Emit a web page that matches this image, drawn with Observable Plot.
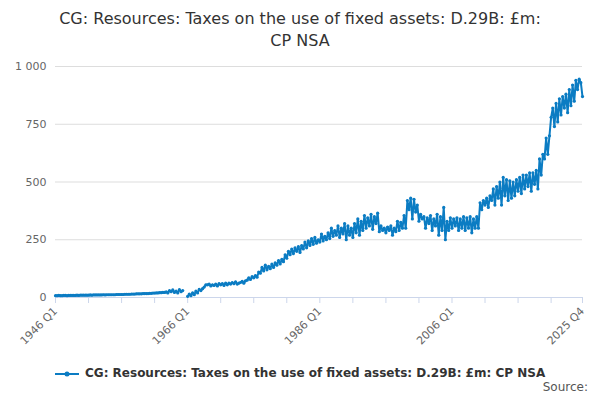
<!DOCTYPE html><html><head><meta charset="utf-8">
<script src="https://cdn.jsdelivr.net/npm/d3@7"></script>
<script src="https://cdn.jsdelivr.net/npm/@observablehq/plot@0.6"></script>
<style>body{margin:0;font-family:"DejaVu Sans",sans-serif;background:#fff;width:600px}
#t{text-align:center;font-size:16px;color:#333;line-height:22px;padding-top:8px;height:47px}
#lg{font-size:12px;font-weight:bold;color:#333;text-align:center;margin-top:6px}
#src{font-size:12px;color:#555;text-align:right;padding-right:12px;margin-top:0px}
</style></head><body>
<div id="t">CG: Resources: Taxes on the use of fixed assets: D.29B: £m:<br>CP NSA</div>
<div id="c"></div>
<div id="lg"><svg width="26" height="10" style="vertical-align:middle"><line x1="0" y1="5" x2="24" y2="5" stroke="#0b7cc3" stroke-width="2"/><circle cx="12" cy="5" r="2.5" fill="#0b7cc3"/></svg> CG: Resources: Taxes on the use of fixed assets: D.29B: £m: CP NSA</div>
<div id="src">Source:</div>
<script>
const startYear = 1946;
const values = [
8,8,9,8, 8,9,9,8, 9,9,9,9, 9,10,9,10, 10,10,10,10, 10,11,10,11, 11,11,11,11, 11,12,11,12, 12,12,12,12, 12,13,13,13,
13,13,14,14, 14,14,15,15, 15,16,16,16, 16,17,17,17, 17,18,18,19, 19,20,20,21, 21,22,22,24, 20,30,25,33, 22,28,20,34, 25,30,null,null,
5,15,8,20, 12,28,20,35, 30,38,45,55, 55,58,50,55, 52,58,50,60, 55,60,52,62, 55,62,58,65, 60,68,58,62, 65,70,62,72, 75,85,78,90,
85,95,88,110, 105,130,115,140, 120,135,125,145, 130,150,140,160, 145,165,155,185, 170,200,185,210, 190,215,200,220, 195,225,210,240, 215,245,225,255, 230,260,235,250,
240,275,245,265, 250,280,255,300, 265,290,270,310, 260,300,275,320, 250,310,270,300, 260,320,280,340, 270,330,290,355, 300,345,310,360, 295,350,320,365, 285,310,290,300,
280,305,290,310, 270,300,285,330, 290,325,300,355, 300,420,380,430, 340,425,370,400, 330,360,340,350, 300,345,320,355, 290,340,310,360, 270,350,290,390, 250,330,290,345,
300,340,310,345, 290,340,300,350, 290,345,300,350, 280,340,300,350, 300,410,380,420, 400,430,390,440, 420,470,400,480, 430,500,400,520, 440,510,420,505, 430,500,440,510,
460,520,450,530, 470,530,480,540, 460,540,490,550, 470,600,530,620, 600,690,620,700, 780,820,740,840, 760,860,790,870, 820,880,800,900, 830,920,850,940, 900,945,930,870
];
const labeledTicks = ["1946 Q1","1966 Q1","1986 Q1","2006 Q1","2025 Q4"];
const yTicks = [0,250,500,750,1000];
const data = values.map((v,i)=>({i, v, label: `${startYear+Math.floor(i/4)} Q${i%4+1}`}));
const lab = new Map(data.map(d=>[d.i,d.label]));
const tickIdx = d3.range(0,320,20).concat([319]);
const col = "#0b7cc3";
const chart = Plot.plot({
  width:600, height:305, marginTop:11, marginLeft:55, marginRight:18, marginBottom:63,
  style:{fontFamily:"DejaVu Sans, sans-serif", fontSize:"11px", color:"#666"},
  x:{domain:[0,319], label:null},
  y:{domain:[0,1000], ticks:yTicks, tickFormat:d=>d3.format(",")(d).replace(","," "), label:null, tickSize:0},
  marks:[
    Plot.gridY(yTicks,{stroke:"#ddd", strokeOpacity:1}),
    Plot.axisY(yTicks,{tickSize:0, tickFormat:d=>d3.format(",")(d).replace(","," "), fill:"#666"}),
    Plot.ruleY([0],{stroke:"#ccd6eb"}),
    Plot.axisX({ticks:tickIdx, tickFormat:i=>labeledTicks.includes(lab.get(i))?lab.get(i):"", tickRotate:-45, stroke:"#ccd6eb", fill:"#666", fontSize:11, tickSize:6}),
    Plot.line(data,{x:"i", y:"v", stroke:col, strokeWidth:2}),
    Plot.dot(data,{x:"i", y:"v", fill:col, r:1.6, filter:d=>d.v!=null})
  ]
});
document.getElementById("c").appendChild(chart);
</script></body></html>
